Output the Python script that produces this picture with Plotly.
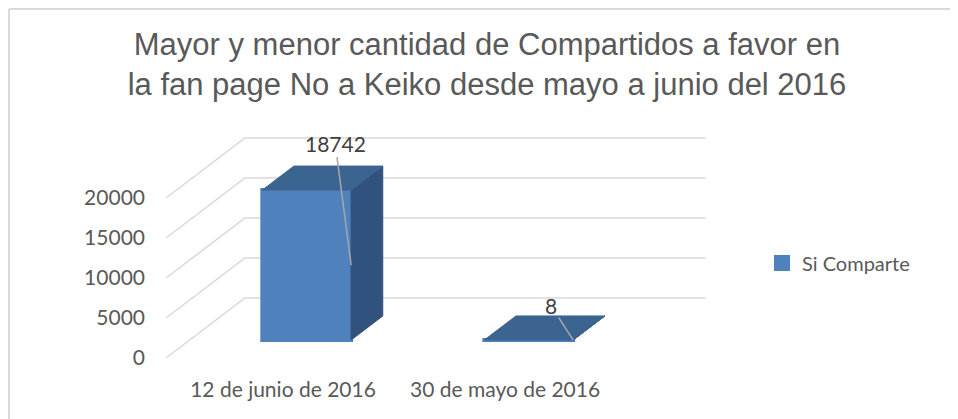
import plotly.graph_objects as go

# data
categories = ["12 de junio de 2016", "30 de mayo de 2016"]
values = [18742, 8]
series_name = "Si Comparte"
y_ticks = [0, 5000, 10000, 15000, 20000]
title_lines = ["Mayor y menor cantidad de Compartidos a favor en",
               "la fan page No a Keiko desde mayo a junio del 2016"]

# fake 3d geometry (in axis units)
WALL_DX, WALL_DY = 0.356, 7500      # full depth of the floor/wall
WALL_X0, WALL_X1 = -0.527, 1.545    # front extent of the back wall
BAR_FD = 0.3                         # bar front sits at 30% of the depth
BAR_BD = 0.4                         # bar depth as a fraction of depth
BAR_W = 0.40

FRONT = "#4F81BD"
TOP = "#3C6490"
SIDE = "#31527C"
GRID = "#D9D9D9"
TEXT = "#595959"

fig = go.Figure()

# side wall diagonals + back wall gridlines, kept below the bars
for v in y_ticks:
    fig.add_shape(type="path", xref="x", yref="y", layer="below",
                  path=f"M{WALL_X0},{v} L{WALL_X0 + WALL_DX},{v + WALL_DY} "
                       f"L{WALL_X1 + WALL_DX},{v + WALL_DY}",
                  line=dict(color=GRID, width=1.5))

bx = BAR_FD * WALL_DX
by = BAR_FD * WALL_DY
ddx = BAR_BD * WALL_DX
ddy = BAR_BD * WALL_DY

# front faces
fig.add_trace(go.Bar(
    x=[i + bx for i in range(len(values))], y=values, base=by, width=BAR_W,
    marker=dict(color=FRONT, line=dict(color=FRONT, width=4)),
    name=series_name, hoverinfo="skip"))

for i, v in enumerate(values):
    c = i + bx
    l, r = c - BAR_W / 2, c + BAR_W / 2
    b, t = by, by + v
    fig.add_trace(go.Scatter(
        x=[r, r + ddx, r + ddx, r, r], y=[b, b + ddy, t + ddy, t, b],
        fill="toself", fillcolor=SIDE, mode="lines", line=dict(color=SIDE, width=1),
        showlegend=False, hoverinfo="skip"))
    fig.add_trace(go.Scatter(
        x=[l, r, r + ddx, l + ddx, l], y=[t, t, t + ddy, t + ddy, t],
        fill="toself", fillcolor=TOP, mode="lines", line=dict(color=TOP, width=1),
        showlegend=False, hoverinfo="skip"))

# data labels with leader lines
label_offsets = [(-16, -122), (-22, -34)]
for i, v in enumerate(values):
    c = i + bx
    fig.add_annotation(
        x=c + BAR_W / 2, y=by + v / 2, text=str(v),
        showarrow=True, arrowhead=0, arrowwidth=1.5, arrowcolor="#A6A6A6",
        ax=label_offsets[i][0], ay=label_offsets[i][1], standoff=0,
        font=dict(family="Lato", size=21, color="#404040"))

# chart frame (top and left edge)
fig.add_shape(type="line", xref="paper", yref="paper",
              x0=(1 - 152) / 560, x1=2, y0=(362 - 1) / 240, y1=(362 - 1) / 240,
              line=dict(color=GRID, width=2))
fig.add_shape(type="line", xref="paper", yref="paper",
              x0=(1 - 152) / 560, x1=(1 - 152) / 560, y0=(362 - 1) / 240, y1=-1,
              line=dict(color=GRID, width=2))

fig.update_layout(
    width=958, height=419,
    margin=dict(l=152, r=246, t=122, b=57),
    paper_bgcolor="white", plot_bgcolor="white",
    barmode="overlay",
    title=dict(text="<br>".join(title_lines), x=0.5, xanchor="center",
               y=1 - 47 / 419, yanchor="middle",
               font=dict(family="Liberation Sans, Arial", size=31, color=TEXT)),
    xaxis=dict(range=[-0.554, 1.968], tickvals=[0, 1], ticktext=categories,
               showgrid=False, zeroline=False, showline=False,
               ticks="", ticklabelstandoff=5,
               tickfont=dict(family="Lato", size=21, color=TEXT)),
    yaxis=dict(range=[-1500, 28500], tickvals=y_ticks,
               ticktext=[str(v) for v in y_ticks],
               showgrid=False, zeroline=False, showline=False,
               ticks="", ticklabelstandoff=14,
               tickfont=dict(family="Lato", size=21, color=TEXT)),
    legend=dict(x=1.075, y=0.446, xanchor="left", yanchor="middle",
                font=dict(family="Lato", size=20, color=TEXT),
                itemwidth=30, bgcolor="rgba(0,0,0,0)"),
    showlegend=True,
)

fig.write_html("out.html")
